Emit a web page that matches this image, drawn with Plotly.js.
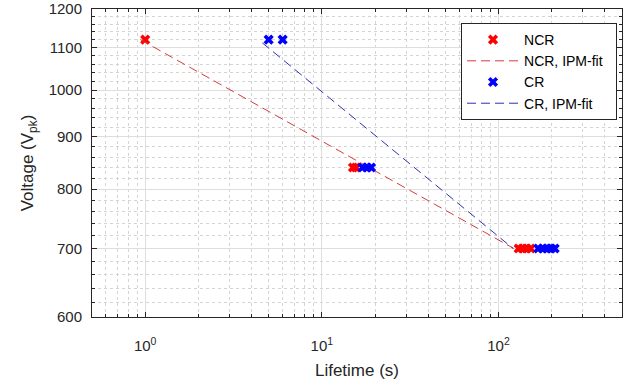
<!DOCTYPE html>
<html>
<head>
<meta charset="utf-8">
<script src="https://cdn.plot.ly/plotly-3.0.1.min.js"></script>
<style>html,body{margin:0;padding:0;background:#fff;}#chart{width:636px;height:382px;}</style>
</head>
<body>
<div id="chart"></div>
<script>
// Data
const ncrLife = [1, 15, 15.6, 130, 137, 144, 152];
const ncrVolt = [1120, 840, 840, 700, 700, 700, 700];
const crLife = [5, 6, 17, 18, 19, 168, 178, 188, 198, 208];
const crVolt = [1120, 1120, 840, 840, 840, 700, 700, 700, 700, 700];
const ncrFitLife = [0.94, 122];
const ncrFitVolt = [1120, 700];
const crFitLife = [4.6, 121];
const crFitVolt = [1112, 700];

const seriesNames = ['NCR', 'NCR, IPM-fit', 'CR', 'CR, IPM-fit'];
const xTickVals = [1, 10, 100];
const xTickText = ['10<sup>0</sup>', '10<sup>1</sup>', '10<sup>2</sup>'];
const xMinorVals = [0.6, 0.7, 0.8, 0.9, 2, 3, 4, 5, 6, 7, 8, 9, 20, 30, 40, 50, 60, 70, 80, 90, 200, 300, 400];
const yTickVals = [600, 700, 800, 900, 1000, 1100, 1200];
const yTickText = ['600', '700', '800', '900', '1000', '1100', '1200'];
const yMinorVals = [];
for (let v = 620; v < 1200; v += 20) { if (v % 100 !== 0) yMinorVals.push(v); }

const FONT = 'Liberation Sans, Arial, sans-serif';
const AX = '#262626';

const traces = [
  {x: ncrLife, y: ncrVolt, type: 'scatter', mode: 'markers', name: seriesNames[0],
   marker: {symbol: 'x', size: 9, color: '#ff0000', line: {width: 0}}},
  {x: ncrFitLife, y: ncrFitVolt, type: 'scatter', mode: 'lines', name: seriesNames[1] + '\u00a0\u00a0',
   line: {color: '#d63a3a', width: 1, dash: '9px,5px'}},
  {x: crLife, y: crVolt, type: 'scatter', mode: 'markers', name: seriesNames[2],
   marker: {symbol: 'x', size: 9, color: '#0000ff', line: {width: 0}}},
  {x: crFitLife, y: crFitVolt, type: 'scatter', mode: 'lines', name: seriesNames[3],
   line: {color: '#3030b0', width: 1, dash: '9px,5px'}}
];

const layout = {
  width: 636, height: 382,
  margin: {l: 92, r: 14, t: 9, b: 65},
  paper_bgcolor: '#ffffff', plot_bgcolor: '#ffffff',
  font: {family: FONT, color: AX, size: 15},
  showlegend: true,
  legend: {x: 0.9906, y: 0.9545, xanchor: 'right', yanchor: 'top',
           bgcolor: '#ffffff', bordercolor: AX, borderwidth: 1,
           font: {family: FONT, size: 14, color: '#000'}, itemwidth: 52,
           traceorder: 'normal'},
  xaxis: {
    type: 'log', range: [Math.log10(0.5), Math.log10(500)],
    tickmode: 'array', tickvals: xTickVals, ticktext: xTickText,
    ticks: 'inside', ticklen: 5, tickcolor: AX, tickwidth: 1,
    showline: true, linecolor: AX, linewidth: 1, mirror: 'ticks',
    showgrid: true, gridcolor: '#dedede', gridwidth: 1,
    zeroline: false, ticklabelstandoff: 15,
    tickfont: {family: FONT, size: 15, color: AX},
    minor: {tickmode: 'array', tickvals: xMinorVals, ticks: 'inside', ticklen: 3,
            tickcolor: AX, showgrid: true, gridcolor: '#d4d4d4', griddash: 'dot', gridwidth: 1},
    title: {text: 'Lifetime (s)', font: {family: FONT, size: 17, color: AX}, standoff: 11}
  },
  yaxis: {
    type: 'log', range: [Math.log10(600), Math.log10(1200)],
    tickmode: 'array', tickvals: yTickVals, ticktext: yTickText,
    ticks: 'inside', ticklen: 5, tickcolor: AX, tickwidth: 1,
    showline: true, linecolor: AX, linewidth: 1, mirror: 'ticks',
    showgrid: true, gridcolor: '#dedede', gridwidth: 1,
    zeroline: false, ticklabelstandoff: 6,
    tickfont: {family: FONT, size: 15, color: AX},
    minor: {tickmode: 'array', tickvals: yMinorVals, ticks: 'inside', ticklen: 3,
            tickcolor: AX, showgrid: true, gridcolor: '#d4d4d4', griddash: 'dot', gridwidth: 1},
    title: {text: 'Voltage (V<sub>pk</sub>)', font: {family: FONT, size: 17, color: AX}, standoff: 10}
  }
};

Plotly.newPlot('chart', traces, layout, {staticPlot: true, displayModeBar: false});
</script>
</body>
</html>
